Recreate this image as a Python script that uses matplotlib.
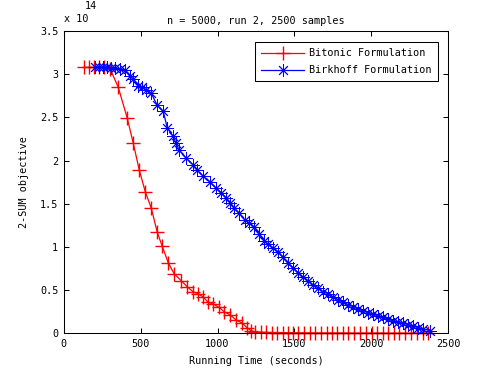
import matplotlib
matplotlib.use("Agg")
import matplotlib.pyplot as plt

# Running time (seconds) and 2-SUM objective (in units of 1e14)
BITONIC_T = [133, 166, 198, 231, 263, 302, 354, 413, 452, 491, 530, 569, 608, 640, 679,
             718, 764, 803, 842, 874, 907, 939, 972, 1011, 1043, 1082, 1121, 1160, 1193,
             1219, 1245,
             1284, 1317, 1356, 1388, 1427, 1460, 1492, 1525, 1564, 1603, 1635, 1674, 1713,
             1746, 1778, 1817, 1850, 1889, 1928, 1967, 2006, 2038, 2077, 2110, 2149, 2181,
             2220, 2259, 2298, 2337, 2370]
BITONIC_V = [3.08, 3.08, 3.08, 3.08, 3.08, 3.06, 2.85, 2.49, 2.20, 1.89, 1.64, 1.45, 1.17,
             1.01, 0.82, 0.69, 0.61, 0.54, 0.48, 0.46, 0.42, 0.36, 0.34, 0.30, 0.25, 0.215,
             0.155, 0.12, 0.064, 0.03, 0.017,
             0.012, 0.011, 0.010, 0.010, 0.009, 0.008, 0.008, 0.007, 0.006, 0.006, 0.005,
             0.005, 0.005, 0.004, 0.004, 0.004, 0.004, 0.003, 0.003, 0.003, 0.003, 0.003,
             0.002, 0.002, 0.002, 0.002, 0.002, 0.002, 0.002, 0.002, 0.002]

BIRKHOFF_T = [205, 231, 257, 283, 309, 335, 367, 400, 432, 452, 484, 510, 536, 569, 608,
              647, 673, 712, 731, 751, 796, 842, 868, 907, 952, 991, 1024, 1056, 1082, 1108,
              1141, 1180, 1206, 1239, 1271, 1304, 1330, 1362, 1395, 1427, 1460, 1492, 1525,
              1557, 1590, 1622, 1655, 1687, 1720, 1752, 1785, 1817, 1850, 1882, 1915, 1947,
              1980, 2012, 2045, 2077, 2110, 2142, 2175, 2207, 2240, 2272, 2305, 2337, 2385]
BIRKHOFF_V = [3.08, 3.08, 3.08, 3.08, 3.07, 3.07, 3.06, 3.05, 2.98, 2.94, 2.87, 2.85, 2.82,
              2.78, 2.64, 2.57, 2.38, 2.28, 2.20, 2.12, 2.03, 1.95, 1.89, 1.82, 1.75, 1.68,
              1.63, 1.57, 1.51, 1.45, 1.39, 1.31, 1.28, 1.23, 1.15, 1.07, 1.03, 0.99, 0.94,
              0.88, 0.81, 0.76, 0.70, 0.65, 0.61, 0.56, 0.53, 0.48, 0.46, 0.42, 0.39, 0.36,
              0.33, 0.31, 0.28, 0.26, 0.24, 0.225, 0.20, 0.19, 0.165, 0.145, 0.13, 0.12,
              0.10, 0.087, 0.064, 0.052, 0.03]

X_TICKS = [0, 500, 1000, 1500, 2000, 2500]
Y_TICKS = [0, 0.5, 1, 1.5, 2, 2.5, 3, 3.5]
Y_TICK_LABELS = ["0", "0.5", "1", "1.5", "2", "2.5", "3", "3.5"]

FONT = "DejaVu Sans Mono"
FS = 7.3

plt.rcParams.update({"font.family": FONT, "font.size": FS})
fig = plt.figure(figsize=(4.95, 3.75), dpi=100)
ax = fig.add_axes([0.129, 0.111, 0.776, 0.806])

ax.plot(BITONIC_T, BITONIC_V, color="red", linewidth=0.9, marker="+",
        markersize=9.5, markeredgewidth=1.0, label="Bitonic Formulation", clip_on=False)
ax.plot(BIRKHOFF_T, BIRKHOFF_V, color="blue", linewidth=0.9, marker=(8, 2, 0),
        markersize=9, markeredgewidth=0.65, label="Birkhoff Formulation", clip_on=False)

ax.set_xlim(0, 2500)
ax.set_ylim(0, 3.5)
ax.set_xticks(X_TICKS)
ax.set_yticks(Y_TICKS, Y_TICK_LABELS)
ax.tick_params(direction="in", length=3.5, width=0.75, top=True, right=True,
               labelsize=FS, pad=4)
for s in ax.spines.values():
    s.set_linewidth(0.75)

ax.set_xlabel("Running Time (seconds)", fontsize=FS, labelpad=5)
ax.set_ylabel("2-SUM objective", fontsize=FS, labelpad=8)
ax.set_title("n = 5000, run 2, 2500 samples", fontsize=FS, pad=5)

# MATLAB-style exponent label above the y axis
ax.text(0.0, 1.025, "x 10", transform=ax.transAxes, fontsize=FS, ha="left", va="bottom")
ax.text(0.054, 1.065, "14", transform=ax.transAxes, fontsize=FS, ha="left", va="bottom")

leg = ax.legend(loc="upper right", bbox_to_anchor=(0.974, 0.964), borderaxespad=0,
                fancybox=False, framealpha=1, edgecolor="black", handlelength=4.3,
                handletextpad=0.5, borderpad=0.6, labelspacing=0.7, fontsize=FS)
leg.get_frame().set_linewidth(0.75)

fig.savefig("out.png", dpi=100, facecolor="white")
